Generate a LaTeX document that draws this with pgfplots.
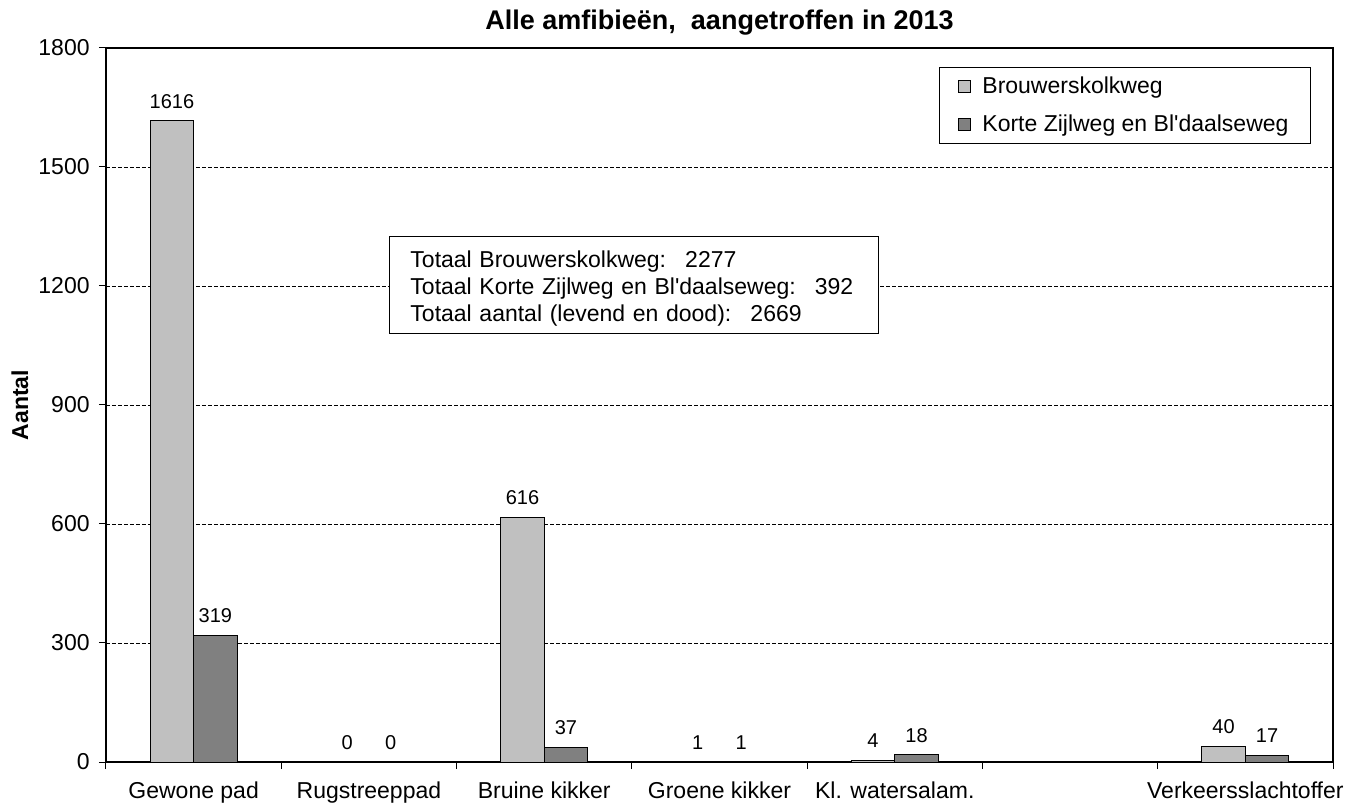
\documentclass[border=0pt]{standalone}
\usepackage{fontspec}
\setmainfont{Liberation Sans}
\usepackage{pgfplots}
\pgfplotsset{compat=1.18}
\definecolor{lightbar}{HTML}{C0C0C0}
\definecolor{darkbar}{HTML}{808080}
\begin{document}
\begin{tikzpicture}
\begin{axis}[
  scale only axis, width=613.5bp, height=357bp,
  xmin=-0.5, xmax=6.5, ymin=0, ymax=1800,
  ybar=0pt, bar width=21.75bp,
  axis line style={line width=1bp},
  xtick={0,...,6},
  xticklabels={Gewone pad, Rugstreeppad, Bruine kikker, Groene kikker, Kl. watersalam., {}, Verkeersslachtoffer},
  major x tick style={draw=none},
  minor xtick={-0.5,0.5,1.5,2.5,3.5,4.5,5.5,6.5},
  minor x tick style={line width=0.5bp, black},
  minor tick length=3.5bp,
  ytick={0,300,600,900,1200,1500,1800},
  major y tick style={line width=0.5bp, black},
  major tick length=3.5bp,
  tick align=outside,
  xtick pos=bottom, ytick pos=left,
  ymajorgrids,
  grid style={black, line width=0.4bp, dash pattern=on 2bp off 1bp},
  /pgf/number format/assume math mode=true,
  /pgf/number format/1000 sep={},
  ticklabel style={font=\fontsize{11.5bp}{13bp}\selectfont},
  yticklabel style={inner sep=0pt, xshift=-4.5bp},
  xticklabel style={inner sep=0pt, anchor=north, yshift=-6bp},
  title={Alle amfibieën,~ aangetroffen in 2013},
  every axis title/.style={font=\fontsize{13.5bp}{15bp}\selectfont\bfseries, at={(rel axis cs:0.5,1)}, anchor=base, yshift=9bp},
  ylabel={Aantal},
  every axis y label/.style={at={([xshift=-43bp]rel axis cs:0,0.5)}, rotate=90, anchor=center, font=\fontsize{11.5bp}{13bp}\selectfont\bfseries},
  nodes near coords,
  nodes near coords style={font=\fontsize{10bp}{11bp}\selectfont, inner sep=0pt, yshift=6bp, black},
  legend style={at={(rel axis cs:1,1)}, anchor=north east, xshift=-11bp, yshift=-9.5bp,
    draw=black, line width=0.5bp, font=\fontsize{11.5bp}{13bp}\selectfont,
    inner xsep=9bp, inner ysep=2.5bp, row sep=5.5bp},
  legend cell align=left,
  legend image code/.code={\draw[#1, line width=0.5bp] (0bp,-3bp) rectangle (6bp,3bp); \path[draw=none, fill=none] (6bp,0bp) -- (10bp,0bp);},
]
\addplot[fill=lightbar, draw=black, line width=0.5bp] coordinates {(0,1616) (1,0) (2,616) (3,1) (4,4) (6,40)};
\addplot[fill=darkbar, draw=black, line width=0.5bp] coordinates {(0,319) (1,0) (2,37) (3,1) (4,18) (6,17)};
\legend{Brouwerskolkweg, Korte Zijlweg en Bl\textquotesingle daalseweg}
\node[draw=black, line width=0.5bp, fill=white, anchor=north west, align=left, text width=223.5bp,
  inner xsep=10.5bp, inner ysep=2bp, minimum height=48.5bp, font=\fontsize{11.5bp}{13.5bp}\selectfont]
  at (rel axis cs:0.2306,0.7367)
  {\rule{0pt}{12.3bp}Totaal Brouwerskolkweg:~ 2277\\Totaal Korte Zijlweg en Bl\textquotesingle daalseweg:~ 392\\Totaal aantal (levend en dood):~ 2669};
\end{axis}
\path (current axis.south west) ++(-53bp,-20.5bp) coordinate (bbA);
\path (current axis.north east) ++(9.5bp,24bp) coordinate (bbB);
\path (bbA) rectangle (bbB);
\end{tikzpicture}
\end{document}
